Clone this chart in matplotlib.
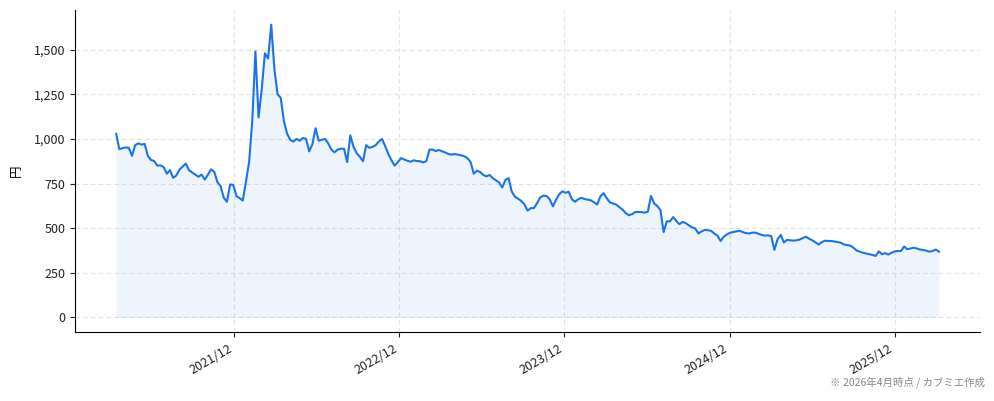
import numpy as np
import pandas as pd
import matplotlib
matplotlib.use("Agg")
import matplotlib.pyplot as plt
import matplotlib.dates as mdates
from matplotlib.ticker import FuncFormatter

plt.rcParams['font.family'] = ['Noto Sans CJK JP', 'DejaVu Sans']

# weekly closing prices (yen)
start_date = "2021-03-15"
prices = [
    1028, 942, 948, 952, 950, 905, 965, 975, 968, 972,
    905, 882, 876, 850, 852, 842, 805, 825, 782, 795,
    828, 845, 862, 825, 812, 800, 788, 800, 772, 800,
    830, 815, 758, 735, 670, 648, 745, 742, 680, 668,
    655, 760, 870, 1100, 1490, 1120, 1280, 1480, 1450, 1640,
    1390, 1250, 1230, 1100, 1030, 995, 985, 1000, 990, 1005,
    1000, 930, 970, 1060, 990, 995, 1000, 975, 940, 925,
    940, 945, 945, 870, 1020, 955, 920, 900, 875, 965,
    950, 955, 965, 985, 1000, 960, 915, 880, 850, 870,
    892, 885, 878, 872, 880, 876, 875, 868, 875, 940,
    940, 932, 938, 930, 924, 915, 912, 915, 912, 908,
    903, 892, 870, 805, 822, 815, 798, 790, 798, 780,
    768, 756, 728, 770, 780, 705, 676, 665, 652, 634,
    598, 612, 612, 640, 672, 682, 680, 662, 622, 660,
    690, 706, 698, 704, 662, 648, 662, 670, 663, 660,
    656, 645, 632, 678, 696, 668, 645, 638, 632, 618,
    604, 585, 572, 578, 590, 591, 590, 587, 592, 680,
    638, 624, 600, 478, 538, 538, 562, 540, 522, 535,
    528, 515, 505, 498, 470, 482, 490, 488, 485, 470,
    458, 428, 452, 465, 474, 478, 482, 485, 478, 472,
    470, 475, 475, 468, 462, 458, 460, 455, 378, 438,
    462, 420, 434, 432, 430, 432, 436, 445, 452, 440,
    432, 420, 408, 422, 430, 428, 428, 425, 422, 418,
    408, 405, 402, 390, 375, 368, 362, 358, 354, 350,
    344, 370, 354, 360, 352, 362, 370, 372, 372, 397,
    382, 386, 390, 386, 380, 378, 374, 368, 372, 380,
    368,
]
dates = pd.date_range(start_date, periods=len(prices), freq="7D")

line_color = "#1a73e8"

fig = plt.figure(figsize=(9.94, 4.01), dpi=100)
ax = fig.add_axes([0.0755, 0.172, 0.9105, 0.803])

ax.plot(dates, prices, color=line_color, linewidth=1.5)
ax.fill_between(dates, prices, 0, color=line_color, alpha=0.08, linewidth=0)

ax.yaxis.set_major_formatter(FuncFormatter(lambda v, p: f"{int(v):,}"))
ax.set_yticks([0, 250, 500, 750, 1000, 1250, 1500])
ax.xaxis.set_major_locator(mdates.MonthLocator(bymonth=12))
ax.xaxis.set_major_formatter(mdates.DateFormatter("%Y/%m"))
for lbl in ax.get_xticklabels():
    lbl.set_rotation(30)
    lbl.set_ha("right")

ax.tick_params(labelsize=9, colors="#222222")
ax.grid(True, linestyle=(0, (4, 3)), color="#e2e2e2", linewidth=0.8)
ax.set_axisbelow(True)
ax.spines["top"].set_visible(False)
ax.spines["right"].set_visible(False)
ax.set_ylabel("円", fontsize=9, labelpad=8)

fig.text(0.991, 0.032, "※ 2026年4月時点 / カブミエ作成", ha="right", va="bottom",
         fontsize=7.5, color="#888888")

fig.savefig("out.png", dpi=100)
